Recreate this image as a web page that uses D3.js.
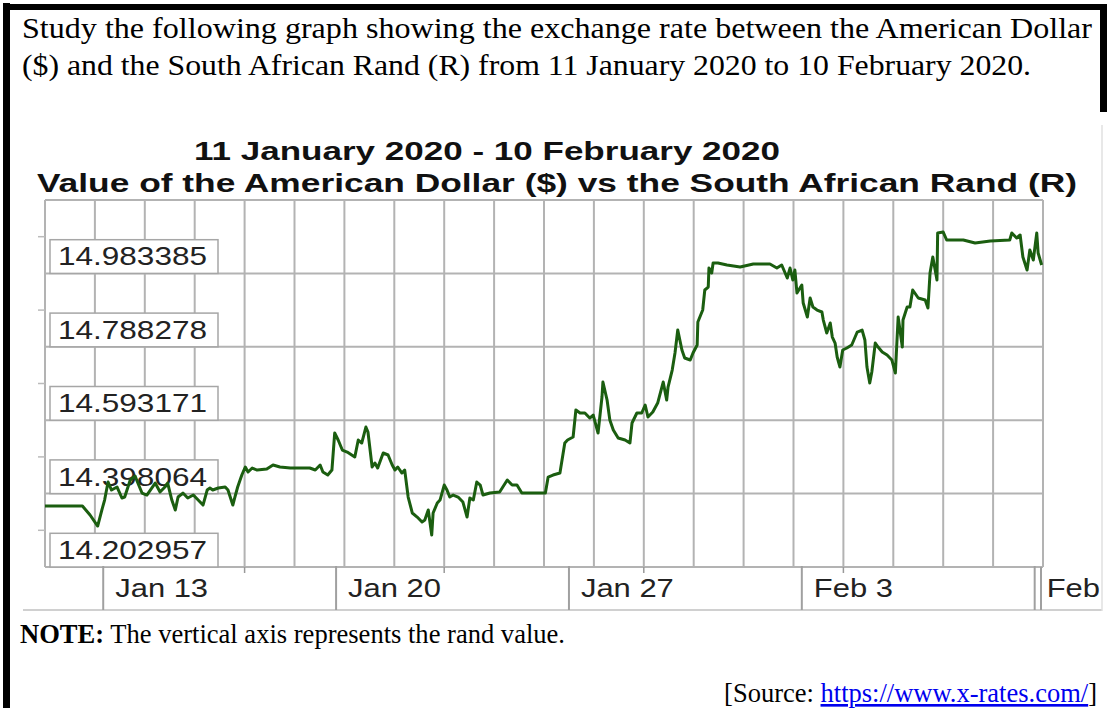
<!DOCTYPE html>
<html>
<head>
<meta charset="utf-8">
<script src="https://cdn.jsdelivr.net/npm/d3@7"></script>
<style>
body{margin:0;background:#fff}
svg{display:block}
</style>
</head>
<body>
<script>
// tick labels on the rand axis
const yLabels = [14.202957, 14.398064, 14.593171, 14.788278, 14.983385];
// labelled dates on the time axis
const xTickDates = ["2020-01-13", "2020-01-20", "2020-01-27", "2020-02-03", "2020-02-10"];

// readings of the USD/ZAR line (time, rate)
const times = [
"2020-01-11 06:00","2020-01-12 09:00","2020-01-12 14:30","2020-01-12 20:00","2020-01-12 23:00",
"2020-01-13 01:00","2020-01-13 03:30","2020-01-13 06:00","2020-01-13 10:00","2020-01-13 13:30","2020-01-13 15:30","2020-01-13 19:30","2020-01-13 23:00",
"2020-01-14 01:00","2020-01-14 04:00","2020-01-14 07:30","2020-01-14 11:00","2020-01-14 13:30","2020-01-14 17:00","2020-01-14 20:30","2020-01-14 22:30",
"2020-01-15 01:30","2020-01-15 04:00","2020-01-15 06:00","2020-01-15 09:30","2020-01-15 13:00","2020-01-15 17:00","2020-01-15 20:30",
"2020-01-16 00:00","2020-01-16 03:00","2020-01-16 05:00","2020-01-16 07:00","2020-01-16 11:00","2020-01-16 16:00","2020-01-16 18:00","2020-01-16 21:30","2020-01-16 23:00",
"2020-01-17 01:00","2020-01-17 04:00","2020-01-17 06:30","2020-01-17 08:30","2020-01-17 11:30","2020-01-17 15:00","2020-01-17 22:00",
"2020-01-18 02:30","2020-01-18 07:30","2020-01-18 15:00",
"2020-01-19 05:00","2020-01-19 09:00","2020-01-19 12:30","2020-01-19 14:30","2020-01-19 18:00","2020-01-19 21:00","2020-01-19 23:00",
"2020-01-20 01:30","2020-01-20 04:30","2020-01-20 08:00","2020-01-20 13:30","2020-01-20 16:00","2020-01-20 18:30","2020-01-20 21:30","2020-01-20 23:00",
"2020-01-21 02:00","2020-01-21 04:00","2020-01-21 06:00","2020-01-21 10:00","2020-01-21 13:30","2020-01-21 16:30","2020-01-21 18:30","2020-01-21 20:30","2020-01-21 23:30",
"2020-01-22 01:30","2020-01-22 04:00","2020-01-22 07:00","2020-01-22 10:30","2020-01-22 14:00","2020-01-22 16:00","2020-01-22 18:30","2020-01-22 21:00","2020-01-22 22:00",
"2020-01-23 01:00","2020-01-23 03:00","2020-01-23 06:00","2020-01-23 08:00","2020-01-23 10:00","2020-01-23 12:30","2020-01-23 16:00","2020-01-23 19:30","2020-01-23 22:30",
"2020-01-24 00:30","2020-01-24 03:00","2020-01-24 05:30","2020-01-24 08:00","2020-01-24 10:00","2020-01-24 15:00","2020-01-24 22:00",
"2020-01-25 03:30","2020-01-25 07:00","2020-01-25 10:30","2020-01-25 14:00","2020-01-25 20:00",
"2020-01-26 07:00","2020-01-26 09:00","2020-01-26 12:30","2020-01-26 17:30","2020-01-26 21:00","2020-01-26 23:00",
"2020-01-27 03:00","2020-01-27 05:00","2020-01-27 08:00","2020-01-27 11:30","2020-01-27 15:00","2020-01-27 17:30","2020-01-27 21:00","2020-01-27 23:50",
"2020-01-28 00:30","2020-01-28 03:30","2020-01-28 05:30","2020-01-28 08:00","2020-01-28 11:30","2020-01-28 16:30","2020-01-28 20:00","2020-01-28 21:30",
"2020-01-29 01:00","2020-01-29 04:30","2020-01-29 07:00","2020-01-29 09:00","2020-01-29 12:30","2020-01-29 16:00","2020-01-29 20:00","2020-01-29 22:30","2020-01-29 23:30",
"2020-01-30 02:30","2020-01-30 04:30","2020-01-30 06:30","2020-01-30 09:30","2020-01-30 11:30","2020-01-30 15:30","2020-01-30 17:30","2020-01-30 20:30","2020-01-30 21:00",
"2020-01-31 00:30","2020-01-31 02:00","2020-01-31 04:30","2020-01-31 05:00","2020-01-31 07:00","2020-01-31 08:00","2020-01-31 11:30","2020-01-31 18:00",
"2020-02-01 03:30","2020-02-01 13:00",
"2020-02-02 01:00","2020-02-02 06:00","2020-02-02 09:30","2020-02-02 13:30","2020-02-02 15:30","2020-02-02 17:30","2020-02-02 19:00","2020-02-02 20:30",
"2020-02-03 00:00","2020-02-03 01:00","2020-02-03 04:00","2020-02-03 06:00","2020-02-03 08:00","2020-02-03 11:00","2020-02-03 14:30","2020-02-03 15:30","2020-02-03 18:00","2020-02-03 20:30","2020-02-03 22:00",
"2020-02-04 00:00","2020-02-04 01:30","2020-02-04 03:30","2020-02-04 05:30","2020-02-04 08:30","2020-02-04 12:00","2020-02-04 16:00","2020-02-04 19:30","2020-02-04 21:30","2020-02-04 23:00",
"2020-02-05 01:00","2020-02-05 02:30","2020-02-05 05:00","2020-02-05 07:00","2020-02-05 10:00","2020-02-05 13:30","2020-02-05 17:00","2020-02-05 19:30","2020-02-05 21:30",
"2020-02-06 00:30","2020-02-06 01:00","2020-02-06 04:00","2020-02-06 06:00","2020-02-06 08:00","2020-02-06 12:00","2020-02-06 17:00","2020-02-06 19:00","2020-02-06 20:30","2020-02-06 22:30",
"2020-02-07 01:30","2020-02-07 02:00","2020-02-07 06:00","2020-02-07 08:30","2020-02-07 11:00","2020-02-07 20:30",
"2020-02-08 05:00","2020-02-08 16:00",
"2020-02-09 06:00","2020-02-09 07:30","2020-02-09 11:00","2020-02-09 13:30","2020-02-09 15:30","2020-02-09 18:30","2020-02-09 20:30","2020-02-09 23:00",
"2020-02-10 01:30","2020-02-10 02:30","2020-02-10 05:00"
];
const rates = [
14.2675,14.2675,14.2436,14.2143,14.2569,
14.2834,14.3313,14.3100,14.3180,14.2888,14.2914,14.3366,14.3472,
14.3286,14.3020,14.2967,14.3153,14.3286,14.3047,14.3180,14.3286,
14.2834,14.2569,14.2914,14.3020,14.2888,14.2967,14.2834,
14.2701,14.3100,14.3153,14.3100,14.3153,14.3180,14.3100,14.2701,14.2914,
14.3180,14.3499,14.3712,14.3579,14.3685,14.3632,14.3658,
14.3765,14.3712,14.3685,
14.3685,14.3632,14.3765,14.3579,14.3499,14.3632,14.4615,
14.4429,14.4163,14.4110,14.3977,14.4429,14.4350,14.4775,14.4642,
14.3712,14.3818,14.3685,14.4084,14.4031,14.3765,14.3632,14.3712,14.3552,
14.3632,14.2914,14.2489,14.2382,14.2250,14.2303,14.2569,14.1904,14.2489,
14.2755,14.2834,14.3233,14.3100,14.2914,14.2967,14.2914,14.2781,14.2382,
14.2888,14.2834,14.3313,14.3233,14.2967,14.3020,14.3047,
14.3366,14.3233,14.3233,14.3020,14.3020,
14.3020,14.3446,14.3499,14.3552,14.4350,14.4429,
14.4509,14.5227,14.5147,14.5147,14.5014,14.5094,14.4615,14.5572,
14.5971,14.5493,14.4961,14.4695,14.4482,14.4429,14.4350,14.4881,
14.5147,14.5147,14.5360,14.5041,14.5174,14.5413,14.5971,14.5493,14.5838,
14.6290,14.6742,14.7353,14.6822,14.6609,14.6556,14.6742,14.6955,14.7566,
14.7885,14.8417,14.8496,14.9001,14.8868,14.9134,14.9134,14.9081,
14.9028,14.9108,
14.9108,14.9001,14.9081,14.8736,14.9001,14.8682,14.8948,14.8337,
14.8550,14.8071,14.7699,14.8204,14.7965,14.7885,14.7832,14.7619,14.7274,14.7539,14.7167,
14.7008,14.6636,14.6370,14.6822,14.6875,14.6955,14.7300,14.7353,14.7088,14.6370,
14.5944,14.6237,14.7008,14.6901,14.6769,14.6689,14.6556,14.6210,14.7699,
14.6901,14.7619,14.7965,14.7965,14.8417,14.8204,14.8151,14.7938,14.8868,14.9294,
14.8682,14.9932,14.9958,14.9746,14.9746,14.9746,
14.9666,14.9719,
14.9746,14.9932,14.9799,14.9879,14.9294,14.8948,14.9480,14.9214,
14.9932,14.9400,14.9081
];

const W = 1107, H = 708;
const parse = d3.timeParse("%Y-%m-%d %H:%M");
const parseDay = d3.timeParse("%Y-%m-%d");
const data = times.map((t, i) => ({date: parse(t), rate: rates[i]}));

const svg = d3.select("body").append("svg")
    .attr("width", W)
    .attr("height", H);

// frame of the question box
svg.append("rect").attr("x", 3).attr("y", 3).attr("width", 7).attr("height", H).attr("fill", "#000");
svg.append("rect").attr("x", 3).attr("y", 4).attr("width", W - 3).attr("height", 6).attr("fill", "#000");
svg.append("rect").attr("x", 1100).attr("y", 4).attr("width", 7).attr("height", 108).attr("fill", "#000");

// question text
svg.append("text")
    .attr("x", 22).attr("y", 38)
    .attr("font-family", "'Liberation Serif', 'Times New Roman', serif")
    .attr("font-size", 29)
    .attr("textLength", 1070).attr("lengthAdjust", "spacingAndGlyphs")
    .text("Study the following graph showing the exchange rate between the American Dollar");
svg.append("text")
    .attr("x", 22).attr("y", 75)
    .attr("font-family", "'Liberation Serif', 'Times New Roman', serif")
    .attr("font-size", 29)
    .attr("textLength", 1009).attr("lengthAdjust", "spacingAndGlyphs")
    .text("($) and the South African Rand (R) from 11 January 2020 to 10 February 2020.");

// scales
const start = parse("2020-01-11 06:00"), end = parse("2020-02-10 06:00");
const x = d3.scaleTime().domain([start, end]).range([45, 1043]);
const step = yLabels[1] - yLabels[0];
const y = d3.scaleLinear()
    .domain([yLabels[0] - step / 2, yLabels[yLabels.length - 1] + step / 2])
    .range([567, 200]);

// chart titles
svg.append("text")
    .attr("x", 194).attr("y", 160)
    .attr("font-family", "'Liberation Sans', Arial, sans-serif")
    .attr("font-weight", "bold").attr("font-size", 25).attr("fill", "#111")
    .attr("textLength", 586).attr("lengthAdjust", "spacingAndGlyphs")
    .text("11 January 2020 - 10 February 2020");
svg.append("text")
    .attr("x", 37).attr("y", 192)
    .attr("font-family", "'Liberation Sans', Arial, sans-serif")
    .attr("font-weight", "bold").attr("font-size", 25).attr("fill", "#111")
    .attr("textLength", 1040).attr("lengthAdjust", "spacingAndGlyphs")
    .text("Value of the American Dollar ($) vs the South African Rand (R)");

// grid
const gridColor = "#b3b3b3";
const vGrid = d3.range(21).map(k => d3.timeHour.offset(start, 36 * k));
const hGrid = d3.range(yLabels.length + 1).map(i => yLabels[0] - step / 2 + i * step);

svg.append("g").selectAll("line")
    .data(hGrid).enter().append("line")
    .attr("x1", x(start)).attr("x2", x(end))
    .attr("y1", d => y(d)).attr("y2", d => y(d))
    .attr("stroke", gridColor).attr("stroke-width", 2);

svg.append("g").selectAll("line")
    .data(vGrid).enter().append("line")
    .attr("x1", d => x(d)).attr("x2", d => x(d))
    .attr("y1", y.range()[1]).attr("y2", y.range()[0])
    .attr("stroke", gridColor).attr("stroke-width", 2);

// y axis: small ticks and boxed labels
svg.append("g").selectAll("line")
    .data(yLabels).enter().append("line")
    .attr("x1", 38).attr("x2", 45)
    .attr("y1", d => y(d)).attr("y2", d => y(d))
    .attr("stroke", "#bbb").attr("stroke-width", 1.5);

const ylab = svg.append("g").selectAll("g")
    .data(yLabels).enter().append("g");
ylab.append("rect")
    .attr("x", 50)
    .attr("y", d => y(d) + 3)
    .attr("width", 168)
    .attr("height", d => y(d - step / 2) - y(d) - 3)
    .attr("fill", "#fff")
    .attr("stroke", "#a6a6a6").attr("stroke-width", 1.5);
ylab.append("text")
    .attr("x", 58)
    .attr("y", d => y(d - step / 2) - 8)
    .attr("font-family", "'Liberation Sans', Arial, sans-serif")
    .attr("font-size", 26.5).attr("fill", "#222")
    .attr("textLength", 149).attr("lengthAdjust", "spacingAndGlyphs")
    .text(d => d3.format(".6f")(d));

// x axis band
svg.append("line")
    .attr("x1", 23).attr("x2", 1102).attr("y1", 610).attr("y2", 610)
    .attr("stroke", "#d0d0d0").attr("stroke-width", 2);
svg.append("line")
    .attr("x1", 1102).attr("x2", 1102).attr("y1", 125).attr("y2", 611)
    .attr("stroke", "#e0e0e0").attr("stroke-width", 1.5);
svg.append("line")
    .attr("x1", x(end) - 2).attr("x2", x(end) - 2).attr("y1", 567).attr("y2", 610)
    .attr("stroke", "#a0a0a0").attr("stroke-width", 2);

svg.append("g").selectAll("line")
    .data([4, 8, 12, 16]).enter().append("line")
    .attr("x1", k => x(vGrid[k])).attr("x2", k => x(vGrid[k]))
    .attr("y1", 567).attr("y2", 573)
    .attr("stroke", "#999").attr("stroke-width", 1.5);

// the last label only shows its month, as the image edge cuts off the day
const xt = svg.append("g")
    .selectAll("g").data(xTickDates.map(parseDay)).enter().append("g");
xt.append("line")
    .attr("x1", d => x(d)).attr("x2", d => x(d))
    .attr("y1", 566).attr("y2", 610)
    .attr("stroke", "#a0a0a0").attr("stroke-width", 2);
xt.append("text")
    .attr("transform", d => `translate(${x(d) + 12},597) scale(1.19,1)`)
    .attr("font-family", "'Liberation Sans', Arial, sans-serif")
    .attr("font-size", 26).attr("fill", "#222")
    .text((d, i) => i === xTickDates.length - 1 ? d3.timeFormat("%b")(d) : d3.timeFormat("%b %-d")(d));

// the rate line
const line = d3.line()
    .x(d => x(d.date))
    .y(d => y(d.rate));
svg.append("path")
    .datum(data)
    .attr("d", line)
    .attr("fill", "none")
    .attr("stroke", "#1b5e10")
    .attr("stroke-width", 3)
    .attr("stroke-linejoin", "round");

// note and source
const note = svg.append("text")
    .attr("x", 20).attr("y", 643)
    .attr("font-family", "'Liberation Serif', 'Times New Roman', serif")
    .attr("font-size", 26.5)
    .attr("textLength", 545).attr("lengthAdjust", "spacingAndGlyphs");
note.append("tspan").attr("font-weight", "bold").text("NOTE:");
note.append("tspan").text(" The vertical axis represents the rand value.");

const src = svg.append("text")
    .attr("x", 1097).attr("y", 702)
    .attr("text-anchor", "end")
    .attr("font-family", "'Liberation Serif', 'Times New Roman', serif")
    .attr("font-size", 26.5);
src.append("tspan").text("[Source: ");
src.append("tspan").attr("fill", "#0000ee").attr("text-decoration", "underline").text("https://www.x-rates.com/");
src.append("tspan").text("]");
</script>
</body>
</html>
